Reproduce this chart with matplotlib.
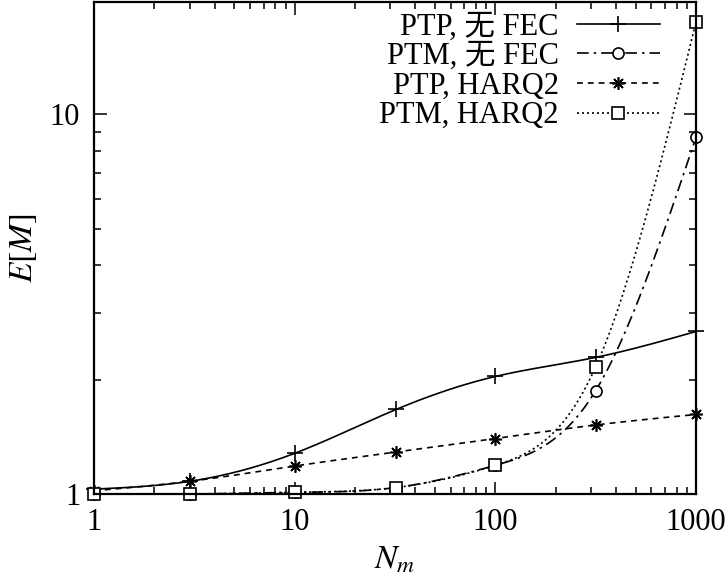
import numpy as np
import matplotlib
matplotlib.use("Agg")
import matplotlib.pyplot as plt
from matplotlib.lines import Line2D
from matplotlib.ticker import FixedLocator, FixedFormatter, NullFormatter, LogLocator

plt.rcParams['font.family'] = ['Liberation Serif', 'Noto Sans CJK SC']
plt.rcParams['mathtext.fontset'] = 'stix'

# данные
n_m = [1, 3, 10, 32, 100, 316, 1000]
ptp_nofec = [1.03, 1.08, 1.28, 1.67, 2.04, 2.29, 2.68]
ptm_nofec = [1.0, 1.0, 1.01, 1.04, 1.19, 1.87, 8.7]
ptp_harq2 = [1.02, 1.08, 1.185, 1.29, 1.40, 1.52, 1.62]
ptm_harq2 = [1.0, 1.0, 1.01, 1.04, 1.19, 2.16, 17.5]
labels = ['PTP, 无 FEC', 'PTM, 无 FEC', 'PTP, HARQ2', 'PTM, HARQ2']


def csplines(x, y, n=400):
    # натуральный кубический сплайн в лог-лог координатах (как smooth csplines)
    lx = np.log10(np.asarray(x, float))
    ly = np.log10(np.asarray(y, float))
    k = len(lx)
    h = np.diff(lx)
    A = np.zeros((k, k))
    b = np.zeros(k)
    A[0, 0] = A[-1, -1] = 1
    for i in range(1, k - 1):
        A[i, i - 1] = h[i - 1]
        A[i, i] = 2 * (h[i - 1] + h[i])
        A[i, i + 1] = h[i]
        b[i] = 3 * ((ly[i + 1] - ly[i]) / h[i] - (ly[i] - ly[i - 1]) / h[i - 1])
    c = np.linalg.solve(A, b)
    xs = np.linspace(lx[0], lx[-1], n)
    ys = np.empty_like(xs)
    for j, t in enumerate(xs):
        i = min(np.searchsorted(lx, t, side='right') - 1, k - 2)
        d = t - lx[i]
        bb = (ly[i + 1] - ly[i]) / h[i] - h[i] * (2 * c[i] + c[i + 1]) / 3
        dd = (c[i + 1] - c[i]) / (3 * h[i])
        ys[j] = ly[i] + bb * d + c[i] * d ** 2 + dd * d ** 3
    return 10 ** xs, 10 ** ys


fig = plt.figure(figsize=(7.25, 5.78), dpi=100)
ax = fig.add_axes([0.1297, 0.1453, 0.8303, 0.8517])

series = [ptp_nofec, ptm_nofec, ptp_harq2, ptm_harq2]
styles = [
    dict(ls='-', marker='+', ms=11),
    dict(ls=(0, (7, 3, 1.5, 3)), marker='o', ms=8),
    dict(ls=(0, (3.5, 3)), marker=(8, 2, 0), ms=9),
    dict(ls=(0, (1.2, 1.8)), marker='s', ms=8),
]

handles = []
for vals, st, lab in zip(series, styles, labels):
    sx, sy = csplines(n_m, vals)
    ax.plot(sx, sy, color='black', lw=1.2, ls=st['ls'])
    ax.plot(n_m, vals, ls='none', marker=st['marker'], ms=st['ms'],
            mfc='white', mec='black', mew=1.2, clip_on=False)
    handles.append(Line2D([], [], color='black', lw=1.2, ls=st['ls'],
                          marker=st['marker'], ms=st['ms'], mfc='white',
                          mec='black', mew=1.2, label=lab))

ax.set_xscale('log')
ax.set_yscale('log')
ax.set_xlim(1, 1000)
ax.set_ylim(1, 19.8)

ax.xaxis.set_major_locator(FixedLocator([1, 10, 100, 1000]))
ax.xaxis.set_major_formatter(FixedFormatter(['1', '10', '100', '1000']))
ax.xaxis.set_minor_locator(LogLocator(base=10, subs=np.arange(2, 10)))
ax.xaxis.set_minor_formatter(NullFormatter())
ax.yaxis.set_major_locator(FixedLocator([1, 10]))
ax.yaxis.set_major_formatter(FixedFormatter(['1', '10']))
ax.yaxis.set_minor_locator(LogLocator(base=10, subs=np.arange(2, 10)))
ax.yaxis.set_minor_formatter(NullFormatter())

ax.tick_params(which='both', direction='in', top=True, right=True, labelsize=22, width=1.1)
ax.tick_params(which='major', length=9, pad=10)
ax.tick_params(which='minor', length=5)
for s in ax.spines.values():
    s.set_linewidth(1.6)

ax.set_xlabel('$N_m$', fontsize=24, labelpad=6)
ax.set_ylabel('$E[M]$', fontsize=24, labelpad=8)

ax.legend(handles=handles, loc='upper right', bbox_to_anchor=(0.96, 1.003),
          frameon=False, markerfirst=False, fontsize=22, handlelength=2.7,
          labelspacing=0.02, handletextpad=0.6, borderaxespad=0)

fig.savefig('out.png', dpi=100)
